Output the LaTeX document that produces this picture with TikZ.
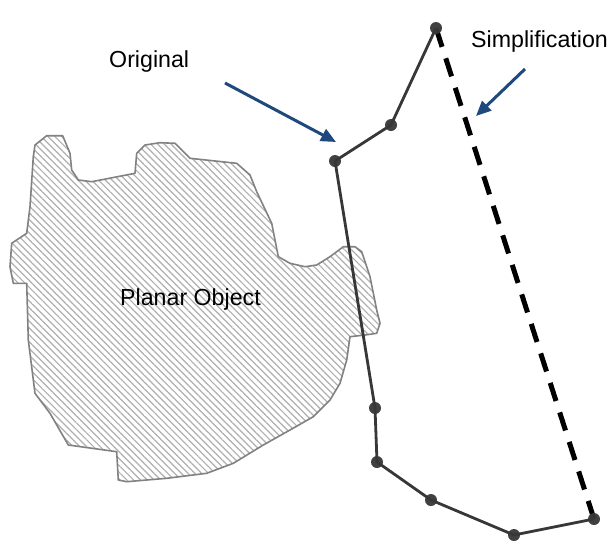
\documentclass[tikz,border=0pt]{standalone}
\usepackage{fontspec}
\setmainfont{Liberation Sans}
\usetikzlibrary{patterns.meta,arrows.meta}
\definecolor{arrowblue}{RGB}{31,73,125}
\definecolor{linegray}{RGB}{55,55,55}
\definecolor{hatchgray}{RGB}{175,175,175}
\definecolor{outlinegray}{RGB}{130,130,130}
\begin{document}
\begin{tikzpicture}[x=1pt,y=-1pt,
  lbl/.style={font=\fontsize{23.2}{27}\selectfont, anchor=base west, inner sep=0pt, text=black},
  vtx/.style={circle, fill=linegray, fill opacity=0.95, minimum size=12pt, inner sep=0pt},
  pointer/.style={draw=arrowblue, line width=3pt, -{Triangle[length=15pt,width=13pt]}},
  polyl/.style={draw=linegray, line width=2.8pt, line join=round},
  simpl/.style={draw=black, line width=5pt, dash pattern=on 19pt off 12pt}
]
\useasboundingbox (0,0) rectangle (616,550);
\fill[white] (0,0) rectangle (616,550);

% planar object
\path[draw=outlinegray, line width=1.6pt, line join=round,
  pattern={Lines[angle=-45,distance=4.8pt,line width=1.2pt]}, pattern color=hatchgray]
 (35,145) -- (46.7,135.7) -- (62.7,135.7) -- (70,153.3) -- (71.7,170) -- (78.3,180)
 -- (91.7,181.7) -- (135,173.3) -- (136.7,153.3) -- (145,145) -- (160,142.7) -- (175,143.3)
 -- (190,158.3) -- (236.7,163.3) -- (250,175) -- (256.7,191.7) -- (271.7,223.3) -- (278.3,256.7)
 -- (290,263.3) -- (305,266.7) -- (316.7,265) -- (330,256.7) -- (343.3,246.7) -- (355,246.7)
 -- (361.7,251.7) -- (370,276.7) -- (376.7,310) -- (380,323.3) -- (376.7,333.3) -- (365,335)
 -- (350,336.7) -- (346.7,360) -- (340,383.3) -- (330,400) -- (313.3,416.7) -- (290,430)
 -- (263.3,445) -- (233.3,463.3) -- (206.7,473.3) -- (166.7,478.3) -- (126.7,481.7) -- (118.3,480)
 -- (116.7,451.7) -- (68.3,445) -- (50,413.3) -- (35,393.3) -- (28.3,340) -- (26.7,283.3)
 -- (13.3,283.3) -- (10,266.7) -- (11.7,243.3) -- (26.7,233.3) -- (30,206.7) -- (33.3,156.7) -- cycle;

% vertices
\coordinate (p1) at (436,28);
\coordinate (p2) at (391,125);
\coordinate (p3) at (335,161);
\coordinate (p4) at (375,408);
\coordinate (p5) at (377,462);
\coordinate (p6) at (431,500);
\coordinate (p7) at (514,535);
\coordinate (p8) at (594,519);

\draw[simpl] (p8) -- (p1);
\draw[polyl] (p1) -- (p2) -- (p3) -- (p4) -- (p5) -- (p6) -- (p7) -- (p8);
\foreach \p in {p1,p2,p3,p4,p5,p6,p7,p8} \node[vtx] at (\p) {};

% labels
\node[lbl] (orig) at (109,67.3) {Original};
\node[lbl] (simp) at (471,47.3) {Simplification};
\node[lbl] (plan) at (120,305) {Planar Object};

% pointers
\coordinate (a1s) at (225,83);
\coordinate (a1e) at (336,142);
\coordinate (a2s) at (525,69);
\coordinate (a2e) at (476,116);
\draw[pointer] (a1s) -- (a1e);
\draw[pointer] (a2s) -- (a2e);
\end{tikzpicture}
\end{document}
